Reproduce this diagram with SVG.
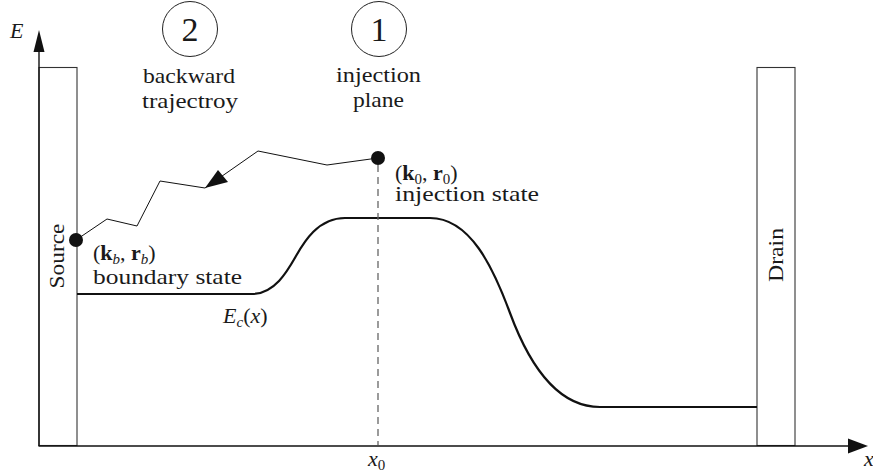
<svg xmlns="http://www.w3.org/2000/svg" width="873" height="475" viewBox="0 0 873 475">
<style>
text{font-family:"Liberation Serif","Times New Roman",serif;fill:#1a1a1a;font-size:22px}
.it{font-style:italic}
.bf{font-weight:bold}
.sub{font-size:15px}
.num{font-size:34px}
.axis{stroke:#111;stroke-width:1.4;fill:none}
.box{stroke:#333;stroke-width:1.1;fill:#fff}
.band{stroke:#111;stroke-width:2.2;fill:none}
.traj{stroke:#111;stroke-width:1;fill:none}
.dash{stroke:#666;stroke-width:1.3;stroke-dasharray:7,5;fill:none}
.ring{stroke:#222;stroke-width:1;fill:#fff}
.dot{fill:#111}
</style>
<rect width="873" height="475" fill="#fff"/>
<g id="source">
<rect class="box" x="39" y="67.5" width="38" height="378"/>
<text transform="translate(64,256) rotate(-90)" text-anchor="middle" textLength="65" lengthAdjust="spacingAndGlyphs">Source</text>
</g>
<g id="drain">
<rect class="box" x="757" y="67.5" width="38" height="378"/>
<text transform="translate(783,255) rotate(-90)" text-anchor="middle" textLength="54" lengthAdjust="spacingAndGlyphs">Drain</text>
</g>
<g id="axes">
<line class="axis" x1="39" y1="446" x2="39" y2="50"/>
<polygon points="39,30 33.5,52 44.5,52" fill="#111"/>
<line class="axis" x1="38.5" y1="446" x2="850" y2="446"/>
<polygon points="868,446 848,438.5 848,453.5" fill="#111"/>
<text class="it" x="10" y="38">E</text>
<text class="it" x="864" y="466">x</text>
</g>
<g id="band">
<path class="band" d="M77,294 L252,294 C275,294 288,270 296,256 C304,242 318,218 345,218 L430,218 C470,218 493,267 510,313 C527,359 555,407 600,407 L757,407"/>
<text x="223" y="323"><tspan class="it">E</tspan><tspan class="it sub" dy="4">c</tspan><tspan dy="-4">(</tspan><tspan class="it">x</tspan>)</text>
</g>
<g id="step2">
<circle class="ring" cx="190" cy="29" r="27.5"/>
<text class="num" x="190" y="41" text-anchor="middle">2</text>
<text x="189" y="83" text-anchor="middle" textLength="92" lengthAdjust="spacingAndGlyphs">backward</text>
<text x="190" y="108" text-anchor="middle" textLength="96" lengthAdjust="spacingAndGlyphs">trajectroy</text>
</g>
<g id="step1">
<circle class="ring" cx="379" cy="29" r="27.5"/>
<text class="num" x="379" y="41" text-anchor="middle">1</text>
<text x="378.5" y="82" text-anchor="middle" textLength="85" lengthAdjust="spacingAndGlyphs">injection</text>
<text x="378.5" y="107" text-anchor="middle" textLength="51" lengthAdjust="spacingAndGlyphs">plane</text>
</g>
<g id="connectors">
<line class="dash" x1="378" y1="165" x2="378" y2="445"/>
<polyline class="traj" points="378,158 327,165 258,151 205,188 160,181 137,226 107,219 76,240"/>
<polygon points="205,188 218,170 228,182" fill="#111"/>
</g>
<g id="injection-state">
<circle class="dot" cx="378" cy="158" r="7"/>
<text x="395" y="180">(<tspan class="bf">k</tspan><tspan class="sub" dy="4">0</tspan><tspan dy="-4">, </tspan><tspan class="bf">r</tspan><tspan class="sub" dy="4">0</tspan><tspan dy="-4">)</tspan></text>
<text x="395" y="201" textLength="144" lengthAdjust="spacingAndGlyphs">injection state</text>
</g>
<g id="boundary-state">
<circle class="dot" cx="76" cy="240" r="7"/>
<text x="93" y="260">(<tspan class="bf">k</tspan><tspan class="it sub" dy="4">b</tspan><tspan dy="-4">, </tspan><tspan class="bf">r</tspan><tspan class="it sub" dy="4">b</tspan><tspan dy="-4">)</tspan></text>
<text x="93" y="284" textLength="149" lengthAdjust="spacingAndGlyphs">boundary state</text>
</g>
<g id="x0-label">
<text x="368" y="466"><tspan class="it">x</tspan><tspan class="sub" dy="4">0</tspan></text>
</g>
</svg>
